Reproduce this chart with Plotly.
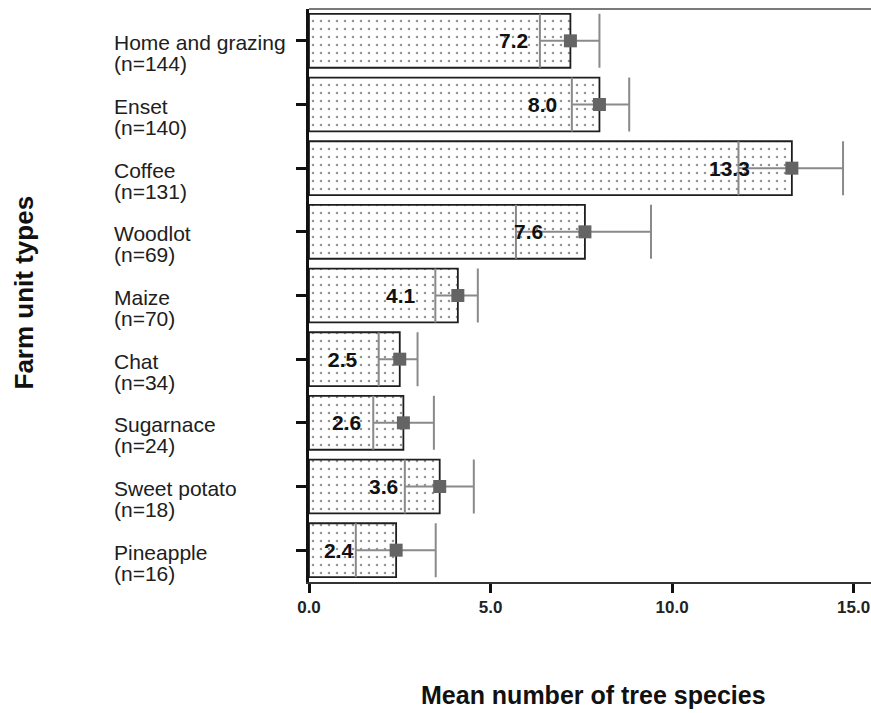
import plotly.graph_objects as go

categories = ["Home and grazing", "Enset", "Coffee", "Woodlot", "Maize",
              "Chat", "Sugarnace", "Sweet potato", "Pineapple"]
n_obs = [144, 140, 131, 69, 70, 34, 24, 18, 16]
means = [7.2, 8.0, 13.3, 7.6, 4.1, 2.5, 2.6, 3.6, 2.4]
lower = [6.36, 7.24, 11.83, 5.70, 3.48, 1.92, 1.77, 2.64, 1.29]
upper = [8.00, 8.82, 14.71, 9.42, 4.65, 2.99, 3.44, 4.54, 3.49]
x_tickvals = [0, 5, 10, 15]
x_ticktext = ["0.0", "5.0", "10.0", "15.0"]
x_title = "Mean number of tree species"
y_title = "Farm unit types"

FONT = "Liberation Sans, Arial, sans-serif"

fig = go.Figure()

fig.add_trace(go.Bar(
    x=means, y=categories, orientation="h",
    marker=dict(
        color="white",
        line=dict(color="#1e1e1e", width=1.8),
        pattern=dict(shape=".", fgcolor="#2a2a2a", bgcolor="white",
                     size=8, solidity=0.08),
    ),
    hoverinfo="skip",
))

fig.add_trace(go.Scatter(
    x=means, y=categories, mode="markers",
    marker=dict(symbol="square", size=13, color="#646464"),
    error_x=dict(type="data", symmetric=False,
                 array=[u - m for u, m in zip(upper, means)],
                 arrayminus=[m - l for m, l in zip(means, lower)],
                 color="#8a8a8a", thickness=2, width=27),
    hoverinfo="skip",
))

annotations = []
for cat, n, m in zip(categories, n_obs, means):
    annotations.append(dict(
        x=0, xref="paper", xshift=-197, xanchor="left",
        y=cat, yref="y", yshift=-2, yanchor="middle",
        text=cat, showarrow=False, align="left",
        font=dict(family=FONT, size=21, color="#202020")))
    annotations.append(dict(
        x=0, xref="paper", xshift=-197, xanchor="left",
        y=cat, yref="y", yshift=-23, yanchor="middle",
        text=f"(n={n})", showarrow=False, align="left",
        font=dict(family=FONT, size=21, color="#202020")))
    annotations.append(dict(
        x=m, xref="x", xshift=-40, xanchor="right",
        y=cat, yref="y", yanchor="middle",
        text=f"{m:.1f}", showarrow=False,
        font=dict(family=FONT, size=21, color="#111111", weight="bold")))

annotations.append(dict(
    x=0, xref="paper", xshift=-286, xanchor="center",
    y=0.5, yref="paper", yshift=3, yanchor="middle",
    text=y_title, textangle=-90, showarrow=False,
    font=dict(family=FONT, size=26, color="#111111", weight="bold")))
annotations.append(dict(
    x=0.5, xref="paper", xshift=3, xanchor="center",
    y=0, yref="paper", yshift=-113, yanchor="middle",
    text=x_title, showarrow=False,
    font=dict(family=FONT, size=25, color="#111111", weight="bold")))

fig.update_layout(
    width=871, height=713,
    margin=dict(l=309, r=0, t=9, b=131),
    plot_bgcolor="white", paper_bgcolor="white",
    showlegend=False, bargap=0.154,
    font=dict(family=FONT),
    annotations=annotations,
    shapes=[dict(type="line", xref="paper", yref="paper",
                 x0=0, x1=1, y0=1, y1=1,
                 line=dict(color="#7a7a7a", width=2))],
    xaxis=dict(range=[0, 15.48], tickvals=x_tickvals, ticktext=x_ticktext,
               showline=True, linecolor="#333333", linewidth=2,
               ticks="outside", ticklen=9, tickwidth=2.5, tickcolor="#111111",
               showgrid=False, zeroline=False, ticklabeloverflow="allow",
               tickfont=dict(family=FONT, size=17, color="#222222", weight="bold")),
    yaxis=dict(type="category", categoryorder="array", categoryarray=categories,
               range=[8.5, -0.5], showline=True, linecolor="#111111", linewidth=3,
               ticks="outside", ticklen=10, tickwidth=2.5, tickcolor="#111111",
               showgrid=False, zeroline=False, showticklabels=False),
)

fig.write_html(
    "out.html",
    config={"displayModeBar": False},
    post_script="document.body.style.margin='0';document.body.style.overflow='hidden';",
)
